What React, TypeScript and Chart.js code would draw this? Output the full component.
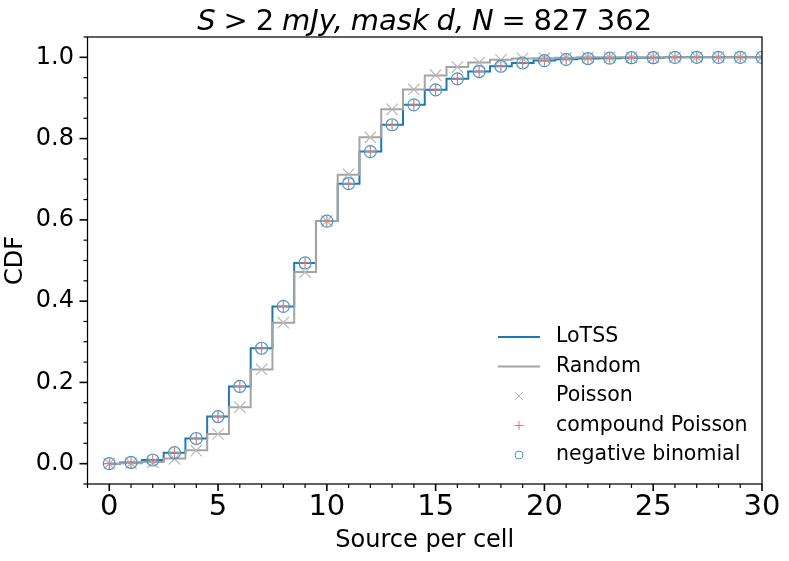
import { useEffect, useRef } from "react"
import { Chart, registerables, type Plugin } from "chart.js"

Chart.register(...registerables)

// sources per cell
const counts = [0, 1, 2, 3, 4, 5, 6, 7, 8, 9, 10, 11, 12, 13, 14, 15, 16, 17, 18, 19, 20, 21, 22, 23, 24, 25, 26, 27, 28, 29, 30]

// CDF values
const lotss = [0.0, 0.003, 0.009, 0.027, 0.062, 0.116, 0.19, 0.284, 0.387, 0.494, 0.597, 0.689, 0.768, 0.834, 0.883, 0.92, 0.947, 0.965, 0.978, 0.986, 0.992, 0.995, 0.997, 0.998, 0.999, 0.999, 1.0, 1.0, 1.0, 1.0, 1.0]
const random = [0.0, 0.001, 0.004, 0.013, 0.033, 0.073, 0.139, 0.232, 0.347, 0.472, 0.597, 0.711, 0.803, 0.872, 0.921, 0.955, 0.976, 0.987, 0.994, 0.997, 0.998, 0.999, 1.0, 1.0, 1.0, 1.0, 1.0, 1.0, 1.0, 1.0, 1.0]
const poisson = [0.0, 0.001, 0.003, 0.012, 0.032, 0.073, 0.139, 0.232, 0.347, 0.471, 0.597, 0.712, 0.803, 0.872, 0.921, 0.956, 0.976, 0.987, 0.994, 0.997, 0.998, 0.999, 1.0, 1.0, 1.0, 1.0, 1.0, 1.0, 1.0, 1.0, 1.0]
const compoundPoisson = [0.0, 0.003, 0.009, 0.027, 0.062, 0.116, 0.19, 0.284, 0.387, 0.494, 0.597, 0.689, 0.768, 0.834, 0.883, 0.92, 0.947, 0.965, 0.978, 0.986, 0.992, 0.995, 0.997, 0.998, 0.999, 0.999, 1.0, 1.0, 1.0, 1.0, 1.0]
const negativeBinomial = [0.0, 0.003, 0.009, 0.027, 0.062, 0.116, 0.19, 0.284, 0.387, 0.494, 0.597, 0.689, 0.768, 0.834, 0.883, 0.92, 0.947, 0.965, 0.978, 0.986, 0.992, 0.995, 0.997, 0.998, 0.999, 0.999, 1.0, 1.0, 1.0, 1.0, 1.0]

const xTicks = [0, 5, 10, 15, 20, 25, 30]
const yTicks = [0.0, 0.2, 0.4, 0.6, 0.8, 1.0]

// title pieces: [text, italic]
const titleParts: [string, boolean][] = [
  ["S", true], [">", false], ["2", false], ["mJy,", true], ["mask", true],
  ["d,", true], ["N", true], ["=", false], ["827", false], ["362", false],
]

const FONT = "DejaVu Sans"

const toPoints = (ys: number[]) => counts.map((x, i) => ({ x, y: ys[i] }))

const axesFrame: Plugin = {
  id: "axesFrame",
  afterDatasetsDraw(chart) {
    const { ctx, chartArea } = chart
    const { left, right, top, bottom } = chartArea
    const xs = chart.scales.x
    const ys = chart.scales.y
    ctx.save()
    ctx.strokeStyle = "#000"
    ctx.lineWidth = 1.25
    ctx.strokeRect(left, top, right - left, bottom - top)

    // x ticks
    for (let v = -1; v <= 30; v++) {
      const major = xTicks.includes(v)
      const px = xs.getPixelForValue(v)
      ctx.lineWidth = major ? 1.6 : 1.2
      ctx.beginPath()
      ctx.moveTo(px, bottom)
      ctx.lineTo(px, bottom + (major ? 7 : 4))
      ctx.stroke()
    }
    // y ticks
    for (let k = -1; k <= 21; k++) {
      const v = Math.round(k * 5) / 100
      const major = yTicks.some((t) => Math.abs(t - v) < 1e-6)
      const py = ys.getPixelForValue(v)
      ctx.lineWidth = major ? 1.6 : 1.2
      ctx.beginPath()
      ctx.moveTo(left, py)
      ctx.lineTo(left - (major ? 8 : 4), py)
      ctx.stroke()
    }
    ctx.restore()
  },
}

const mathTitle: Plugin = {
  id: "mathTitle",
  afterDraw(chart) {
    const { ctx, chartArea } = chart
    const size = 29
    const gap = size * 0.27
    ctx.save()
    ctx.textBaseline = "alphabetic"
    ctx.fillStyle = "#000"
    const widths = titleParts.map(([t, it]) => {
      ctx.font = `${it ? "italic " : ""}${size}px "${FONT}"`
      return ctx.measureText(t).width
    })
    const total = widths.reduce((a, b) => a + b, 0) + gap * (titleParts.length - 1)
    let x = (chartArea.left + chartArea.right) / 2 - total / 2
    titleParts.forEach(([t, it], i) => {
      ctx.font = `${it ? "italic " : ""}${size}px "${FONT}"`
      ctx.fillText(t, x, 29.5)
      x += widths[i] + gap
    })
    ctx.restore()
  },
}

const lowerRightLegend: Plugin = {
  id: "lowerRightLegend",
  afterDraw(chart) {
    const { ctx, chartArea } = chart
    const x0 = chartArea.right - 264
    const x1 = chartArea.right - 222
    const mx = (x0 + x1) / 2
    const tx = chartArea.right - 206
    const y0 = chartArea.bottom - 147
    const dy = 29.5
    ctx.save()
    ctx.font = `20.5px "${FONT}"`
    ctx.textBaseline = "middle"
    chart.data.datasets.forEach((ds: any, i) => {
      const y = y0 + i * dy
      ctx.strokeStyle = ds.borderColor
      if (ds.showLine !== false) {
        ctx.lineWidth = ds.borderWidth
        ctx.beginPath()
        ctx.moveTo(x0, y)
        ctx.lineTo(x1, y)
        ctx.stroke()
      } else {
        ctx.lineWidth = 1
        ctx.beginPath()
        if (ds.pointStyle === "crossRot") {
          ctx.moveTo(mx - 4, y - 4); ctx.lineTo(mx + 4, y + 4)
          ctx.moveTo(mx - 4, y + 4); ctx.lineTo(mx + 4, y - 4)
        } else if (ds.pointStyle === "cross") {
          ctx.moveTo(mx - 4.5, y); ctx.lineTo(mx + 4.5, y)
          ctx.moveTo(mx, y - 4.5); ctx.lineTo(mx, y + 4.5)
        } else {
          ctx.arc(mx, y, 4, 0, Math.PI * 2)
        }
        ctx.stroke()
      }
      ctx.fillStyle = "#000"
      ctx.fillText(ds.label, tx, y)
    })
    ctx.restore()
  },
}

export default function App() {
  const chartRef = useRef<HTMLCanvasElement>(null)
  const chartInstance = useRef<Chart | null>(null)

  useEffect(() => {
    if (!chartRef.current) return
    if (chartInstance.current) chartInstance.current.destroy()

    chartInstance.current = new Chart(chartRef.current, {
      type: "line",
      data: {
        datasets: [
          {
            label: "LoTSS",
            data: toPoints(lotss),
            borderColor: "#1f77b4",
            borderWidth: 2,
            stepped: "middle",
            pointRadius: 0,
            fill: false,
            clip: 0,
            order: 5,
          },
          {
            label: "Random",
            data: toPoints(random),
            borderColor: "#a4a4a0",
            borderWidth: 2,
            stepped: "middle",
            pointRadius: 0,
            fill: false,
            clip: 0,
            order: 4,
          },
          {
            label: "Poisson",
            data: toPoints(poisson),
            showLine: false,
            pointStyle: "crossRot",
            pointRadius: 8,
            borderColor: "#b9b9b9",
            borderWidth: 1.2,
            clip: 0,
            order: 3,
          },
          {
            label: "compound Poisson",
            data: toPoints(compoundPoisson),
            showLine: false,
            pointStyle: "cross",
            pointRadius: 5.5,
            borderColor: "#c8807c",
            borderWidth: 1.2,
            clip: 0,
            order: 2,
          },
          {
            label: "negative binomial",
            data: toPoints(negativeBinomial),
            showLine: false,
            pointStyle: "circle",
            pointRadius: 6,
            borderColor: "#4a97cc",
            backgroundColor: "rgba(0,0,0,0)",
            borderWidth: 1.2,
            clip: 0,
            order: 1,
          },
        ] as any,
      },
      options: {
        animation: false,
        responsive: true,
        maintainAspectRatio: false,
        events: [],
        layout: { padding: { top: 37, right: 27, bottom: 0, left: 0 } },
        plugins: {
          legend: { display: false },
          title: { display: false },
          tooltip: { enabled: false },
        },
        scales: {
          x: {
            type: "linear",
            min: -1,
            max: 30,
            afterBuildTicks: (s) => {
              s.ticks = xTicks.map((v) => ({ value: v }))
            },
            afterFit: (s) => {
              s.height = 77
            },
            grid: { display: false, drawTicks: false, tickLength: 0 },
            border: { display: false },
            ticks: {
              autoSkip: false,
              maxRotation: 0,
              padding: 6,
              color: "#000",
              font: { family: FONT, size: 29 },
              callback: (v) => String(v),
            },
            title: {
              display: true,
              text: "Source per cell",
              color: "#000",
              font: { family: FONT, size: 24 },
              padding: { top: 0, bottom: 6 },
            },
          },
          y: {
            type: "linear",
            min: -0.05,
            max: 1.05,
            afterBuildTicks: (s) => {
              s.ticks = yTicks.map((v) => ({ value: v }))
            },
            afterFit: (s) => {
              s.width = 87.5
            },
            grid: { display: false, drawTicks: false, tickLength: 0 },
            border: { display: false },
            ticks: {
              padding: 13.5,
              color: "#000",
              font: { family: FONT, size: 24 },
              callback: (v) => Number(v).toFixed(1),
            },
            title: {
              display: true,
              text: "CDF",
              color: "#000",
              font: { family: FONT, size: 24 },
              padding: { top: 1.5, bottom: 0 },
            },
          },
        },
      },
      plugins: [axesFrame, mathTitle, lowerRightLegend],
    })

    return () => {
      if (chartInstance.current) {
        chartInstance.current.destroy()
        chartInstance.current = null
      }
    }
  }, [])

  return (
    <div style={{ position: "absolute", left: 0, top: 0, width: 789, height: 561, background: "#fff" }}>
      <canvas ref={chartRef} />
    </div>
  )
}
